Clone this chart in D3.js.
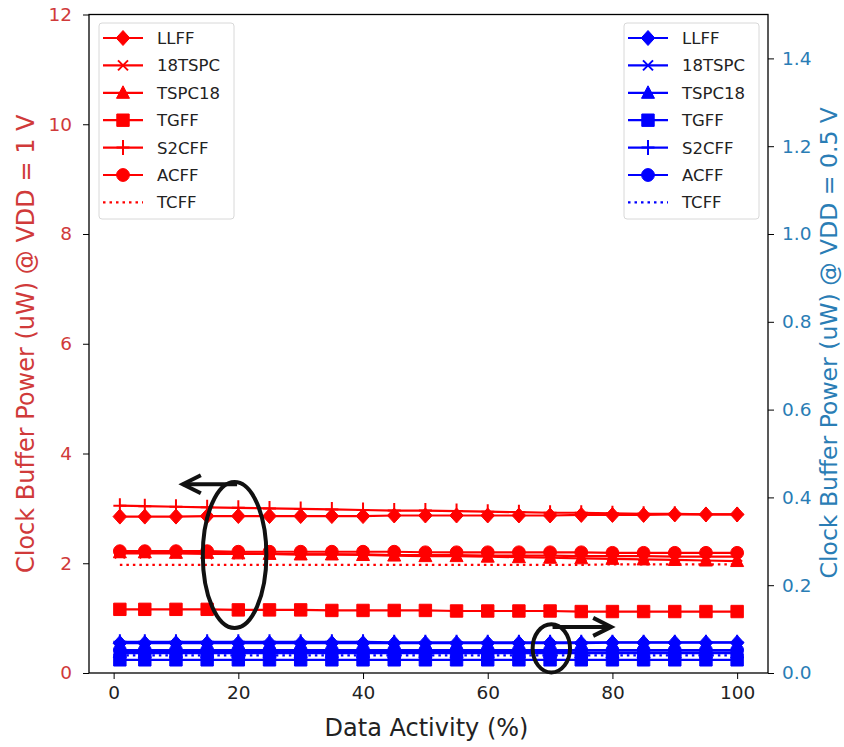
<!DOCTYPE html>
<html><head><meta charset="utf-8">
<script src="https://cdn.jsdelivr.net/npm/d3@7"></script>
<style>body{margin:0;background:#fff;} svg{display:block;} text{font-family:"DejaVu Sans",sans-serif;}</style>
</head><body>
<svg id="c" width="844" height="747"></svg>
<script>
const activity = [1,5,10,15,20,25,30,35,40,45,50,55,60,65,70,75,80,85,90,95,100];
const seriesNames = ["LLFF","18TSPC","TSPC18","TGFF","S2CFF","ACFF","TCFF"];
const markers = ["diamond","x","triangle","square","plus","circle","none"];
// left axis, VDD = 1 V (uW)
const red_LLFF   = [2.85,2.85,2.85,2.86,2.86,2.86,2.86,2.86,2.86,2.87,2.87,2.87,2.87,2.87,2.87,2.88,2.88,2.88,2.89,2.89,2.89];
const red_18TSPC = [2.18,2.18,2.18,2.17,2.17,2.17,2.16,2.16,2.16,2.15,2.15,2.15,2.14,2.14,2.14,2.13,2.13,2.13,2.12,2.12,2.12];
const red_TSPC18 = [2.20,2.20,2.19,2.19,2.18,2.17,2.16,2.16,2.15,2.14,2.13,2.13,2.12,2.11,2.10,2.09,2.08,2.07,2.06,2.05,2.04];
const red_TGFF   = [1.16,1.16,1.16,1.16,1.15,1.15,1.15,1.14,1.14,1.14,1.14,1.13,1.13,1.13,1.13,1.12,1.12,1.12,1.12,1.12,1.12];
const red_S2CFF  = [3.05,3.04,3.03,3.02,3.01,3.00,2.99,2.98,2.97,2.96,2.96,2.95,2.94,2.93,2.92,2.92,2.91,2.90,2.90,2.89,2.89];
const red_ACFF   = [2.22,2.22,2.22,2.22,2.21,2.21,2.21,2.21,2.21,2.21,2.20,2.20,2.20,2.20,2.20,2.20,2.19,2.19,2.19,2.19,2.19];
const red_TCFF   = [1.97,1.97,1.97,1.97,1.97,1.97,1.97,1.97,1.97,1.97,1.97,1.97,1.97,1.97,1.97,1.97,1.98,1.98,1.98,1.98,1.98];
// right axis, VDD = 0.5 V (uW)
const blue_LLFF   = [0.068,0.068,0.068,0.068,0.068,0.068,0.068,0.068,0.068,0.068,0.068,0.068,0.068,0.068,0.068,0.068,0.069,0.069,0.069,0.069,0.069];
const blue_18TSPC = [0.045,0.045,0.045,0.045,0.045,0.045,0.045,0.045,0.045,0.045,0.045,0.045,0.045,0.045,0.045,0.045,0.045,0.045,0.045,0.045,0.045];
const blue_TSPC18 = [0.048,0.048,0.048,0.048,0.048,0.048,0.048,0.048,0.048,0.048,0.048,0.048,0.048,0.048,0.048,0.047,0.047,0.047,0.047,0.047,0.047];
const blue_TGFF   = [0.030,0.030,0.030,0.030,0.030,0.030,0.030,0.030,0.030,0.030,0.030,0.030,0.030,0.030,0.030,0.030,0.030,0.030,0.030,0.030,0.030];
const blue_S2CFF  = [0.071,0.071,0.071,0.071,0.071,0.071,0.071,0.071,0.071,0.070,0.070,0.070,0.070,0.070,0.070,0.070,0.070,0.070,0.070,0.070,0.070];
const blue_ACFF   = [0.052,0.052,0.052,0.052,0.052,0.052,0.052,0.052,0.052,0.052,0.052,0.052,0.052,0.052,0.052,0.052,0.052,0.052,0.052,0.052,0.052];
const blue_TCFF   = [0.040,0.040,0.040,0.040,0.040,0.040,0.040,0.040,0.040,0.040,0.040,0.040,0.040,0.040,0.040,0.040,0.040,0.040,0.040,0.040,0.040];
const xTicks = [0,20,40,60,80,100];
const leftTicks = [0,2,4,6,8,10,12];
const rightTicks = [0.0,0.2,0.4,0.6,0.8,1.0,1.2,1.4];
// annotation ellipses/arrows in data units (left axis)
const ellipses = [{cx:19.4, cy:2.15, rx:5.1, ry:1.33},{cx:70.2, cy:0.45, rx:3.0, ry:0.44}];
const arrows = [{x1:19.8, x2:11.1, y:3.44},{x1:70.4, x2:79.8, y:0.84}];

const redData = [red_LLFF,red_18TSPC,red_TSPC18,red_TGFF,red_S2CFF,red_ACFF,red_TCFF];
const blueData = [blue_LLFF,blue_18TSPC,blue_TSPC18,blue_TGFF,blue_S2CFF,blue_ACFF,blue_TCFF];

const L=89, R=768, T=14.5, B=673;
const svg = d3.select("#c");
const x = d3.scaleLinear().domain([-3.95,104.95]).range([L,R]);
const yL = d3.scaleLinear().domain([0,12]).range([B,T]);
const yR = d3.scaleLinear().domain([0,1.5]).range([B,T]);
const RED="#ff0000", BLUE="#0000ff", TRED="#d03a3a", TBLUE="#2a7db5";

function markerPath(type){
  switch(type){
    case "diamond": return "M0,-7.5L6.8,0L0,7.5L-6.8,0Z";
    case "square": return "M-6.2,-6.2H6.2V6.2H-6.2Z";
    case "triangle": return "M0,-7L6.5,5.5H-6.5Z";
    case "circle": return "M6.4,0A6.4,6.4 0 1,1 -6.4,0A6.4,6.4 0 1,1 6.4,0Z";
    case "x": return "M-5,-5L5,5M-5,5L5,-5";
    case "plus": return "M-6.5,0H6.5M0,-7.5V7.5";
  }
  return null;
}
function drawMarker(g, type, px, py, color){
  const p = markerPath(type); if(!p) return;
  const stroked = (type==="x"||type==="plus");
  g.append("path").attr("d",p).attr("transform",`translate(${px},${py})`)
   .attr("fill", stroked?"none":color).attr("stroke",color)
   .attr("stroke-width", stroked?2:1);
}
function drawSeries(g, ys, yScale, color, type){
  const line = d3.line().x((d,i)=>x(activity[i])).y(d=>yScale(d));
  g.append("path").datum(ys).attr("d",line).attr("fill","none").attr("stroke",color)
   .attr("stroke-width",2.2).attr("stroke-dasharray", type==="none"?"2.5,4":null);
  ys.forEach((v,i)=>drawMarker(g,type,x(activity[i]),yScale(v),color));
}
const plot = svg.append("g");
redData.forEach((ys,k)=>drawSeries(plot,ys,yL,RED,markers[k]));
blueData.forEach((ys,k)=>drawSeries(plot,ys,yR,BLUE,markers[k]));

// frame
svg.append("rect").attr("x",L).attr("y",T).attr("width",R-L).attr("height",B-T)
  .attr("fill","none").attr("stroke","#000").attr("stroke-width",1.3);

// x axis
const gx = svg.append("g").attr("transform",`translate(0,${B})`)
  .call(d3.axisBottom(x).tickValues(xTicks).tickSize(6).tickPadding(7).tickFormat(d3.format("d")));
gx.select(".domain").remove();
gx.selectAll("text").attr("font-size",18.5).attr("fill","#222");
const gl = svg.append("g").attr("transform",`translate(${L},0)`)
  .call(d3.axisLeft(yL).tickValues(leftTicks).tickSize(6).tickPadding(11).tickFormat(d3.format("d")));
gl.select(".domain").remove();
gl.selectAll("text").attr("font-size",18.5).attr("fill",TRED);
const gr = svg.append("g").attr("transform",`translate(${R},0)`)
  .call(d3.axisRight(yR).tickValues(rightTicks).tickSize(6).tickPadding(8).tickFormat(d3.format(".1f")));
gr.select(".domain").remove();
gr.selectAll("text").attr("font-size",18.5).attr("fill",TBLUE);

// labels
svg.append("text").attr("x",(L+R)/2-2).attr("y",736).attr("text-anchor","middle")
  .attr("font-size",24).attr("fill","#222").text("Data Activity (%)");
svg.append("text").attr("transform",`translate(34,${(T+B)/2}) rotate(-90)`).attr("text-anchor","middle")
  .attr("font-size",24).attr("fill",TRED).text("Clock Buffer Power (uW) @ VDD = 1 V");
svg.append("text").attr("transform",`translate(837,${(T+B)/2-1}) rotate(-90)`).attr("text-anchor","middle")
  .attr("font-size",23.5).attr("fill",TBLUE).text("Clock Buffer Power (uW) @ VDD = 0.5 V");

// legends
function legend(x0, color){
  const g = svg.append("g");
  g.append("rect").attr("x",x0).attr("y",23).attr("width",135).attr("height",196).attr("rx",3)
   .attr("fill","#fff").attr("fill-opacity",0.85).attr("stroke","#d8d8d8");
  seriesNames.forEach((n,k)=>{
    const yy = 38 + k*27.4;
    g.append("line").attr("x1",x0+4).attr("x2",x0+44).attr("y1",yy).attr("y2",yy)
      .attr("stroke",color).attr("stroke-width",2.2).attr("stroke-dasharray", markers[k]==="none"?"2.5,4":null);
    drawMarker(g, markers[k], x0+24, yy, color);
    g.append("text").attr("x",x0+58).attr("y",yy+6).attr("font-size",16.5).attr("fill","#222").text(n);
  });
}
legend(99, RED);
legend(624, BLUE);

// annotations
const ann = svg.append("g").attr("stroke","#111").attr("stroke-width",4).attr("fill","none");
ellipses.forEach(e=>{
  ann.append("ellipse").attr("cx",x(e.cx)).attr("cy",yL(e.cy))
    .attr("rx",x(e.cx+e.rx)-x(e.cx)).attr("ry",yL(0)-yL(e.ry));
});
arrows.forEach(a=>{
  const x1=x(a.x1), x2=x(a.x2), yy=yL(a.y), dir = x2<x1?1:-1;
  ann.append("path").attr("d",`M${x1},${yy}H${x2}`);
  ann.append("path").attr("d",`M${x2+dir*18},${yy-9}L${x2},${yy}L${x2+dir*18},${yy+9}`).attr("stroke-linejoin","miter");
});
</script>
</body></html>
